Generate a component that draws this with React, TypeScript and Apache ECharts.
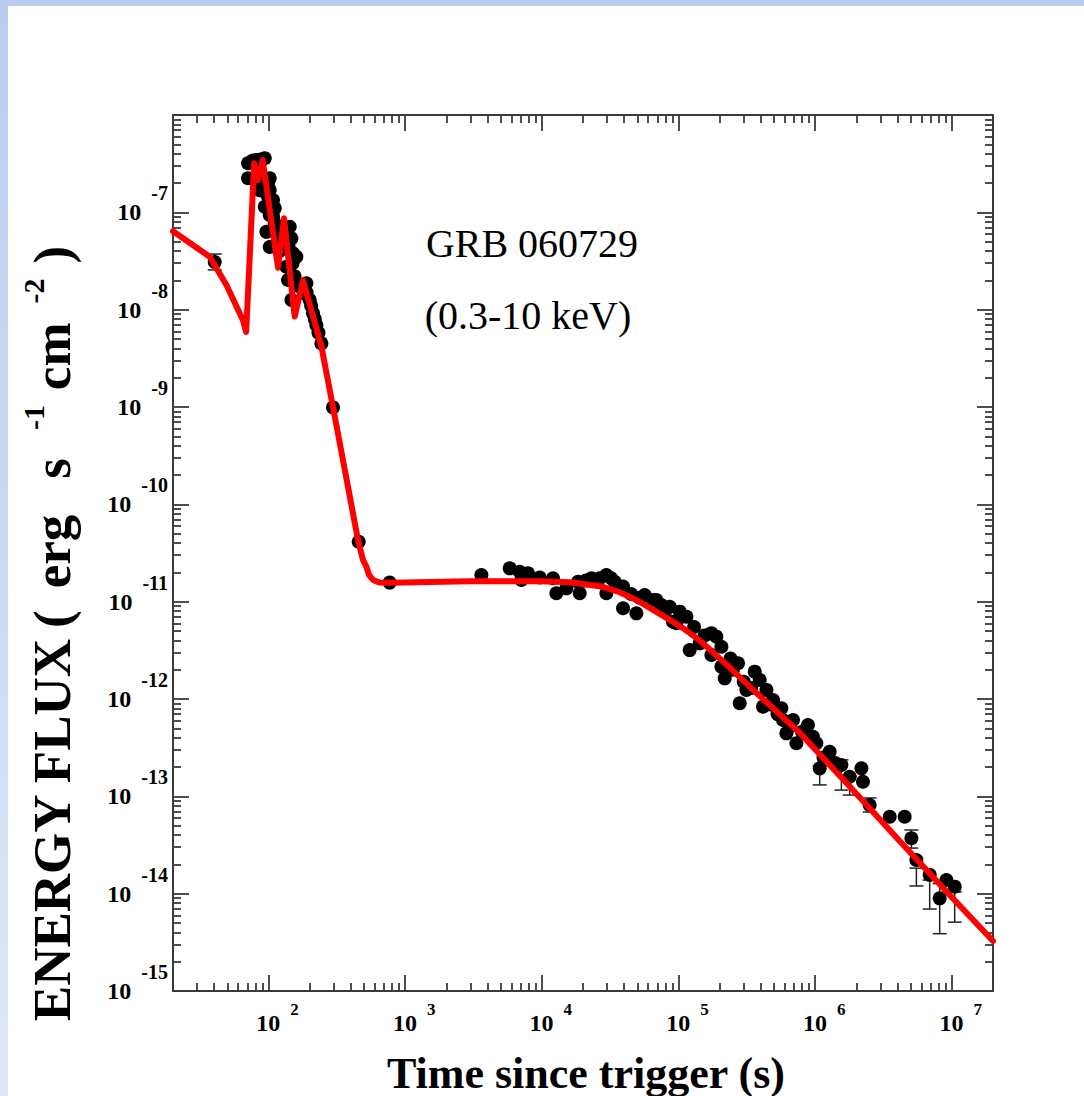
import React, { useEffect, useRef } from "react";
import * as echarts from "echarts";

// ---------- axis ranges ----------
const X_MIN = 20;
const X_MAX = 2e7;
const Y_MIN = 1e-15;
const Y_MAX = 1e-6;
const xLabelExp = [2, 3, 4, 5, 6, 7];
const yLabelExp = [-15, -14, -13, -12, -11, -10, -9, -8, -7];
const minorMult = [2, 3, 4, 5, 6, 7, 8, 9];

// ---------- data: black points [time (s), flux] ----------
const earlyDots = [[40.4, 3.09e-8]];
const flareDots = [
  [70.8, 3.19e-7], [74.9, 3.31e-7], [81.5, 3.45e-7], [93.8, 3.59e-7], [70.8, 2.24e-7],
  [86.2, 2.15e-7], [102, 2.24e-7], [86.2, 1.69e-7], [102, 1.69e-7], [107.8, 1.34e-7],
  [93.8, 1.14e-7], [102, 9.4e-8], [111, 7.7e-8], [96.5, 6.3e-8], [117.3, 4.8e-8],
  [142.9, 7.1e-8], [147.1, 5.4e-8], [151, 3.8e-8], [135.1, 2.76e-8], [138.8, 2.02e-8],
  [147.1, 1.26e-8], [189.3, 1.87e-8], [200.1, 1.26e-8], [211.5, 9.2e-9], [224, 6.9e-9],
  [243.7, 4.5e-9], [102, 4.4e-8], [159.9, 3.5e-8], [169.1, 1.72e-8], [183.9, 1.47e-8],
  [111, 1.1e-7], [83.8, 1.83e-7], [99.1, 1.99e-7], [98, 1.5e-7], [105, 1.2e-7],
  [108, 9.0e-8], [114, 6.5e-8], [120, 4.0e-8], [140, 4.5e-8], [150, 3.0e-8],
  [155, 2.2e-8], [190, 1.5e-8], [205, 1.1e-8], [218, 8.0e-9], [232, 5.8e-9],
  [77, 3.4e-7], [88, 3.5e-7],
];
const decayDots = [[296.3, 9.9e-10], [456.8, 4.13e-11], [770, 1.57e-11]];
const plateauDots = [
  [3610, 1.88e-11], [5815, 2.2e-11], [6883, 2.03e-11], [7914, 1.96e-11], [7085, 1.67e-11],
  [9641, 1.77e-11], [12060, 1.74e-11], [12770, 1.22e-11], [15120, 1.37e-11], [18380, 1.6e-11],
  [18920, 1.22e-11], [23040, 1.74e-11], [26490, 1.74e-11], [29660, 1.88e-11], [34120, 1.6e-11],
  [39250, 1.43e-11], [29660, 1.22e-11], [39250, 8.55e-12], [49150, 7.59e-12], [56550, 1.17e-11],
  [65040, 1.04e-11], [74920, 9.24e-12], [91100, 6.22e-12], [68870, 1.04e-11], [86170, 8.87e-12],
  [45000, 1.2e-11], [52000, 1.1e-11], [80000, 8.0e-12], [21000, 1.65e-11], [32000, 1.75e-11],
];
const lateDots = [
  [102000, 7.89e-12], [114200, 7.01e-12], [96450, 6.0e-12], [120700, 3.18e-12], [142800, 3.73e-12],
  [173900, 4.73e-12], [189200, 4.37e-12], [205900, 3.44e-12], [173900, 2.83e-12], [205900, 2.15e-12],
  [217700, 1.63e-12], [272400, 2.33e-12], [280300, 9.04e-13], [313700, 1.24e-12], [360900, 1.91e-12],
  [392600, 1.57e-12], [439600, 1.24e-12], [415100, 8.34e-13], [491100, 9.77e-13], [565600, 8.02e-13],
  [581000, 6.08e-13], [615300, 4.44e-13], [687900, 6.08e-13], [728500, 3.51e-13], [885400, 5.41e-13],
  [963400, 4.09e-13], [1020000, 3.51e-13], [1079000, 1.94e-13], [1276000, 2.87e-13], [1555000, 2.1e-13],
  [1788000, 1.59e-13], [2178000, 1.94e-13], [2237000, 1.41e-13], [2504000, 8.15e-14], [3508000, 6.17e-14],
  [4516000, 6.17e-14], [5056000, 3.71e-14], [5501000, 2.22e-14], [6883000, 1.56e-14], [8146000, 8.95e-15],
  [9120000, 1.38e-14], [10490000, 1.18e-14],
  [130000, 5.5e-12], [155000, 4.5e-12], [240000, 2.6e-12], [250000, 2.0e-12], [300000, 1.5e-12],
  [340000, 1.3e-12], [470000, 8.8e-13], [530000, 7.0e-13], [650000, 5.2e-13], [800000, 4.6e-13],
  [1150000, 2.5e-13], [1400000, 2.2e-13],
];

// ---------- error bars ----------
const errTime = [40.4, 1079000, 1555000, 1788000, 2504000, 5056000, 5501000, 6883000, 8146000, 10490000];
const errLow = [2.56e-8, 1.31e-13, 1.16e-13, 1.03e-13, 6.9e-14, 2.94e-14, 1.2e-14, 6.95e-15, 3.88e-15, 5.1e-15];
const errHigh = [3.73e-8, 2.05e-13, 2.37e-13, 1.61e-13, 9.62e-14, 4.51e-14, 1.83e-14, 1.38e-14, 1.27e-14, 1.04e-14];

// ---------- red model curve ----------
const modelTime = [
  20, 37.1, 49.2, 65, 68.6, 78.5, 83.8, 90.6, 117.3, 129.8,
  155.4, 178.7, 243.7, 296.3, 451.5, 491.2, 520, 543.4, 581.3, 651,
  770, 3000, 9600, 16000, 28000, 37100, 49150, 64700, 86200, 110900,
  142800, 217700, 331700, 770000, 1790000, 4150000, 9640000, 20000000,
];
const modelFlux = [
  6.4e-8, 3.5e-8, 1.79e-8, 7.8e-9, 5.9e-9, 3.2e-7, 2.15e-7, 3.45e-7, 2.7e-8, 8.7e-8,
  8.5e-9, 2.0e-8, 4.2e-9, 1.0e-9, 4.3e-11, 2.68e-11, 2.29e-11, 1.88e-11, 1.67e-11, 1.57e-11,
  1.56e-11, 1.62e-11, 1.62e-11, 1.58e-11, 1.42e-11, 1.25e-11, 1.04e-11, 8.3e-12, 6.5e-12, 5.2e-12,
  4.0e-12, 2.35e-12, 1.34e-12, 4.5e-13, 1.26e-13, 3.47e-14, 9.7e-15, 3.26e-15,
];

const FONT = '"Liberation Serif", "Times New Roman", serif';
const AXIS_COLOR = "#3a3a3a";

export default function App() {
  const ref = useRef<HTMLDivElement>(null);

  useEffect(() => {
    if (!ref.current) return;
    const chart = echarts.init(ref.current, undefined, { renderer: "svg" });

    const lxMin = Math.log10(X_MIN);
    const lxMax = Math.log10(X_MAX);
    const lyMin = Math.log10(Y_MIN);
    const lyMax = Math.log10(Y_MAX);
    const eps = 1e-9;

    const xMinor: number[] = [];
    for (let e = 1; e <= 7; e++) {
      for (const k of minorMult) {
        const v = Math.log10(k) + e;
        if (v > lxMin + eps && v < lxMax - eps) xMinor.push(v);
      }
    }
    const yMinor: number[] = [];
    for (let e = -15; e <= -7; e++) {
      for (const k of minorMult) {
        const v = Math.log10(k) + e;
        if (v > lyMin + eps && v < lyMax - eps) yMinor.push(v);
      }
    }
    const yMajor = [-14, -13, -12, -11, -10, -9, -8, -7];

    const lineStyle = { color: AXIS_COLOR, width: 2 };
    const tickStyle = { color: AXIS_COLOR, width: 1.8 };

    const xTickAxis = (position: string, values: number[], len: number, showLine: boolean, labels: boolean) => ({
      type: "value",
      gridIndex: 0,
      position,
      min: lxMin,
      max: lxMax,
      axisLine: { show: showLine, onZero: false, lineStyle },
      axisTick: { show: true, inside: true, length: len, customValues: values, lineStyle: tickStyle },
      axisLabel: labels
        ? {
            show: true,
            customValues: xLabelExp,
            margin: 6,
            formatter: (v: number) => `{b|10}{s|${Math.round(v)}}`,
            rich: {
              b: { fontFamily: FONT, fontWeight: "bold", fontSize: 24, color: "#000", padding: [14, 0, 14, 18], verticalAlign: "middle" },
              s: { fontFamily: FONT, fontWeight: "bold", fontSize: 17, color: "#000", padding: [4, 0, 0, 10], verticalAlign: "top" },
            },
          }
        : { show: false },
      splitLine: { show: false },
    });

    const yTickAxis = (position: string, values: number[], len: number, showLine: boolean, labels: boolean) => ({
      type: "value",
      gridIndex: 0,
      position,
      min: lyMin,
      max: lyMax,
      axisLine: { show: showLine, onZero: false, lineStyle },
      axisTick: { show: true, inside: true, length: len, customValues: values, lineStyle: tickStyle },
      axisLabel: labels
        ? {
            show: true,
            customValues: yLabelExp,
            margin: 5,
            formatter: (v: number) => `{b|10}{s|${Math.round(v)}}`,
            rich: {
              b: { fontFamily: FONT, fontWeight: "bold", fontSize: 24, color: "#000", padding: [20, 0, 20, 0], verticalAlign: "middle" },
              s: { fontFamily: FONT, fontWeight: "bold", fontSize: 20, color: "#000", padding: [3, 0, 0, 10], verticalAlign: "top" },
            },
          }
        : { show: false },
      splitLine: { show: false },
    });

    const allDots = [...earlyDots, ...flareDots, ...decayDots, ...plateauDots, ...lateDots];
    const errData = errTime.map((t, i) => [t, errLow[i], errHigh[i]]);
    const modelData = modelTime.map((t, i) => [t, modelFlux[i]]);

    const tA = (left: number) => ({ fontFamily: FONT, fontWeight: "bold", fontSize: 53, color: "#000", padding: [12, 0, 12, left], verticalAlign: "middle" });
    const tS = (left: number) => ({ fontFamily: FONT, fontWeight: "bold", fontSize: 30, color: "#000", padding: [5, 0, 0, left], verticalAlign: "top" });

    const option: any = {
      animation: false,
      backgroundColor: "#ffffff",
      grid: [{ left: 173, top: 115, width: 820, height: 876, outerBoundsMode: "none", containLabel: false }],
      xAxis: [
        { type: "log", logBase: 10, min: X_MIN, max: X_MAX, gridIndex: 0, show: false, splitLine: { show: false } },
        xTickAxis("bottom", xLabelExp, 16, true, true),
        xTickAxis("bottom", xMinor, 8, false, false),
        xTickAxis("top", xLabelExp, 16, true, false),
        xTickAxis("top", xMinor, 8, false, false),
      ],
      yAxis: [
        { type: "log", logBase: 10, min: Y_MIN, max: Y_MAX, gridIndex: 0, show: false, splitLine: { show: false } },
        yTickAxis("left", yMajor, 16, true, true),
        yTickAxis("left", yMinor, 8, false, false),
        yTickAxis("right", yMajor, 16, true, false),
        yTickAxis("right", yMinor, 8, false, false),
      ],
      series: [
        {
          type: "scatter",
          name: "data",
          xAxisIndex: 0,
          yAxisIndex: 0,
          data: allDots,
          symbol: "circle",
          symbolSize: 14,
          itemStyle: { color: "#000000", opacity: 1 },
          z: 3,
        },
        {
          type: "custom",
          name: "errors",
          xAxisIndex: 0,
          yAxisIndex: 0,
          data: errData,
          encode: { x: 0, y: [1, 2] },
          z: 3,
          renderItem: (params: any, api: any) => {
            const t = api.value(0);
            const lo = api.coord([t, api.value(1)]);
            const hi = api.coord([t, api.value(2)]);
            const w = 7;
            const st = { stroke: "#222", lineWidth: 1.5 };
            return {
              type: "group",
              children: [
                { type: "line", shape: { x1: lo[0], y1: lo[1], x2: hi[0], y2: hi[1] }, style: st },
                { type: "line", shape: { x1: lo[0] - w, y1: lo[1], x2: lo[0] + w, y2: lo[1] }, style: st },
                { type: "line", shape: { x1: hi[0] - w, y1: hi[1], x2: hi[0] + w, y2: hi[1] }, style: st },
              ],
            };
          },
        },
        {
          type: "line",
          name: "model",
          xAxisIndex: 0,
          yAxisIndex: 0,
          data: modelData,
          showSymbol: false,
          symbol: "none",
          smooth: false,
          lineStyle: { color: "#ff0000", width: 6, cap: "round", join: "round" },
          z: 5,
        },
      ],
      graphic: [
        { type: "rect", silent: true, z: -10, shape: { x: 0, y: 0, width: 1084, height: 6 }, style: { fill: "#B9CEEE" } },
        {
          type: "rect",
          silent: true,
          z: -10,
          shape: { x: 0, y: 0, width: 8, height: 1096 },
          style: {
            fill: new echarts.graphic.LinearGradient(0, 0, 0, 1, [
              { offset: 0, color: "#B9CEEE" },
              { offset: 1, color: "#DFE7F6" },
            ]),
          },
        },
        {
          type: "text",
          x: 532,
          y: 243,
          style: { text: "GRB 060729", font: `40px ${FONT}`, fill: "#000", align: "center", verticalAlign: "middle", textAlign: "center", textVerticalAlign: "middle" },
        },
        {
          type: "text",
          x: 528,
          y: 315,
          style: { text: "(0.3-10 keV)", font: `40px ${FONT}`, fill: "#000", align: "center", verticalAlign: "middle", textAlign: "center", textVerticalAlign: "middle" },
        },
        {
          type: "text",
          x: 586,
          y: 1073,
          style: { text: "Time since trigger (s)", font: `bold 44px ${FONT}`, fill: "#000", align: "center", verticalAlign: "middle", textAlign: "center", textVerticalAlign: "middle" },
        },
        {
          type: "text",
          x: 52,
          y: 634,
          rotation: Math.PI / 2,
          style: {
            text: "{a0|ENERGY FLUX}{a10|(}{a22|erg}{a36|s}{s28|-1}{a15|cm}{s19|-2}{a15|)}",
            align: "center",
            verticalAlign: "middle",
            textAlign: "center",
            textVerticalAlign: "middle",
            rich: {
              a0: tA(0),
              a10: tA(10),
              a22: tA(22),
              a36: tA(36),
              a15: tA(15),
              s28: tS(28),
              s19: tS(19),
            },
          },
        },
      ],
    };

    chart.setOption(option);
    return () => chart.dispose();
  }, []);

  return <div ref={ref} style={{ position: "absolute", left: 0, top: 0, width: 1084, height: 1096 }} />;
}
